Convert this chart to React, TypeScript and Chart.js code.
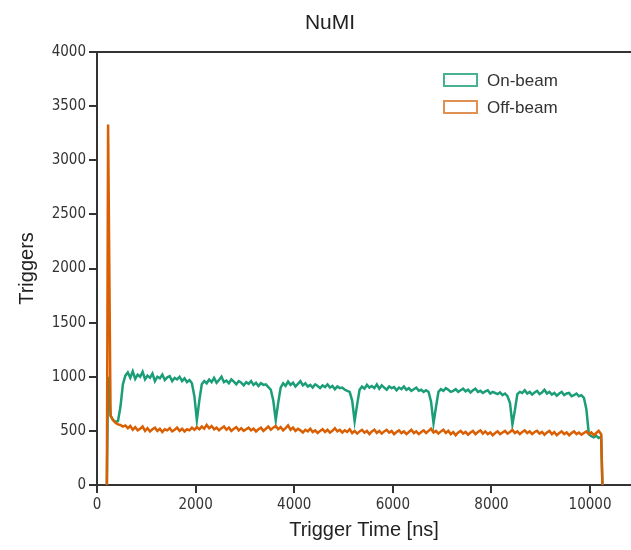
import React, { useEffect, useRef } from "react";
import { Chart, registerables } from "chart.js";

Chart.register(...registerables);

// Histogram binning (ns)
const BIN_START = 200;
const BIN_WIDTH = 50;

const TITLE = "NuMI";
const X_TITLE = "Trigger Time [ns]";
const Y_TITLE = "Triggers";
const SERIES_NAMES = ["On-beam", "Off-beam"];

const X_TICKS = [0, 2000, 4000, 6000, 8000, 10000];
const Y_TICKS = [0, 500, 1000, 1500, 2000, 2500, 3000, 3500, 4000];

// On-beam counts per bin (bins start at 200 ns, 50 ns wide)
const onBeam = [
  1000, 640, 600, 585, 590, 720, 930, 1010, 1040, 990,
  1050, 980, 1020, 1000, 1045, 975, 1010, 990, 1030, 960,
  1000, 985, 1020, 970, 995, 1005, 960, 990, 975, 1000,
  960, 985, 950, 970, 940, 820, 600, 780, 930, 960,
  940, 975, 950, 990, 945, 970, 1000, 950, 965, 940,
  975, 955, 930, 960, 945, 920, 950, 935, 960, 925,
  945, 915, 940, 925, 930, 905, 880, 780, 600, 760,
  900, 940, 915, 955, 925, 945, 910, 935, 960, 920,
  940, 910, 925, 900, 930, 915, 895, 920, 905, 930,
  900, 915, 885, 910, 895, 900, 880, 870, 860, 780,
  590, 740, 880, 910, 890, 925, 900, 915, 895, 930,
  890, 920, 900, 880, 910, 895, 905, 875, 900, 885,
  910, 880, 895, 870, 885, 900, 870, 880, 860, 875,
  860, 770, 570, 720, 860, 885, 870, 895, 880, 860,
  870, 885, 860, 875, 890, 865, 880, 855, 875, 890,
  860, 870, 850, 865, 875, 845, 860, 850, 840, 855,
  830, 845, 820, 760, 560, 690, 840, 860, 850, 875,
  845, 860, 835, 855, 870, 840, 855, 880, 845, 860,
  835, 850, 825, 845, 860, 830, 845, 850, 820, 830,
  845, 820, 830, 805, 700, 470, 450, 440, 455, 435,
  445,
];

// Off-beam counts per bin (same binning)
const offBeam = [
  3330, 640, 600, 575, 560, 555, 540, 550, 525, 545,
  510, 535, 505, 520, 540, 500, 525, 495, 515, 530,
  500, 520, 490, 515, 505, 525, 495, 510, 530, 500,
  520, 495, 515, 505, 530, 510, 535, 515, 540, 520,
  555, 525, 545, 515, 530, 505, 525, 540, 510, 530,
  500, 520, 535, 505, 525, 500, 515, 530, 505, 520,
  495, 515, 530, 500, 520, 540, 510, 530, 545, 515,
  535, 505, 525, 550, 510, 530, 500, 520, 505, 485,
  510, 495, 520, 490, 505, 480, 500, 515, 490, 510,
  485, 500, 525, 495, 510, 485, 505, 490, 515, 480,
  500, 475, 495, 510, 485, 500, 470, 495, 510, 480,
  500, 475, 495, 510, 485, 500, 470, 490, 505, 480,
  495, 470, 490, 510, 480, 495, 470, 490, 505, 480,
  500, 520, 485, 500, 475, 495, 510, 480, 500, 470,
  490, 460, 485, 500, 475, 490, 465, 485, 500, 470,
  490, 505, 475, 495, 470, 485, 460, 480, 495, 470,
  485, 500, 475, 490, 510, 480, 495, 470, 490, 505,
  480, 495, 470, 490, 500, 475, 490, 465, 485, 500,
  470, 490, 460, 480, 495, 470, 485, 460, 480, 495,
  470, 485, 465, 480, 495, 470, 485, 460, 480, 500,
  470,
];

const GREEN = "rgb(27,158,119)";
const ORANGE = "rgb(217,95,2)";
const GREEN_BOX = "rgb(70,178,145)";
const ORANGE_BOX = "rgb(226,145,85)";
const AXIS = "#333333";
const TICK_FONT = "'Liberation Sans Narrow', 'DejaVu Sans Condensed', 'Liberation Sans', sans-serif";
const TEXT_FONT = "'Liberation Sans', Arial, sans-serif";

// points at bin centres, with zero edges at both ends of the histogram
function toPoints(values: number[]) {
  const pts = [{ x: BIN_START, y: 0 }];
  values.forEach((v, i) => pts.push({ x: BIN_START + (i + 0.5) * BIN_WIDTH, y: v }));
  const end = BIN_START + values.length * BIN_WIDTH;
  pts.push({ x: end, y: 0 });
  return pts;
}

const decorPlugin = {
  id: "decor",
  afterDraw(chart: any) {
    const { ctx, chartArea } = chart;
    ctx.save();
    // top frame line
    ctx.strokeStyle = AXIS;
    ctx.lineWidth = 2;
    ctx.beginPath();
    ctx.moveTo(chartArea.left - 1, chartArea.top);
    ctx.lineTo(chartArea.right, chartArea.top);
    ctx.stroke();
    // title
    ctx.fillStyle = "#222";
    ctx.font = `21px ${TEXT_FONT}`;
    ctx.textAlign = "center";
    ctx.textBaseline = "middle";
    ctx.fillText(TITLE, 330, 23);
    // legend
    const colors = [GREEN_BOX, ORANGE_BOX];
    const ys = [80, 107];
    ctx.font = `17px ${TEXT_FONT}`;
    ctx.textAlign = "left";
    SERIES_NAMES.forEach((name, i) => {
      ctx.strokeStyle = colors[i];
      ctx.lineWidth = 2;
      ctx.strokeRect(444, ys[i] - 6, 33, 12);
      ctx.fillStyle = "#333";
      ctx.fillText(name, 487, ys[i] + 1);
    });
    ctx.restore();
  },
};

export default function App() {
  const ref = useRef<HTMLCanvasElement | null>(null);
  useEffect(() => {
    document.body.style.margin = "0";
    const canvas = ref.current;
    if (!canvas) return;
    const chart = new Chart(canvas, {
      type: "line",
      data: {
        datasets: [
          {
            label: SERIES_NAMES[0],
            data: toPoints(onBeam),
            borderColor: GREEN,
            borderWidth: 2.5,
            pointRadius: 0,
            fill: false,
            tension: 0,
            order: 1,
          },
          {
            label: SERIES_NAMES[1],
            data: toPoints(offBeam),
            borderColor: ORANGE,
            borderWidth: 2.5,
            pointRadius: 0,
            fill: false,
            tension: 0,
            order: 0,
          },
        ],
      },
      options: {
        animation: false,
        responsive: false,
        maintainAspectRatio: false,
        layout: { padding: { top: 52, right: 0, bottom: 0, left: 0 } },
        plugins: {
          legend: { display: false },
          title: { display: false },
          tooltip: { enabled: false },
        },
        scales: {
          x: {
            type: "linear",
            min: 0,
            max: 10830,
            afterBuildTicks: (scale: any) => {
              scale.ticks = X_TICKS.map((v) => ({ value: v }));
            },
            afterFit: (scale: any) => {
              scale.height = 65;
            },
            ticks: {
              color: AXIS,
              font: { family: TICK_FONT, size: 15 },
              padding: 3,
              maxRotation: 0,
              callback: (v: any) => String(v),
            },
            grid: {
              drawOnChartArea: false,
              drawTicks: true,
              tickLength: 8,
              color: AXIS,
              lineWidth: 2,
            },
            border: { display: true, color: AXIS, width: 2 },
            title: {
              display: true,
              text: X_TITLE,
              color: "#222",
              font: { family: TEXT_FONT, size: 20 },
              padding: { top: 0, bottom: 8 },
            },
          },
          y: {
            type: "linear",
            min: 0,
            max: 4000,
            afterBuildTicks: (scale: any) => {
              scale.ticks = Y_TICKS.map((v) => ({ value: v }));
            },
            afterFit: (scale: any) => {
              scale.width = 97;
            },
            ticks: {
              color: AXIS,
              font: { family: TICK_FONT, size: 15 },
              padding: 3,
              callback: (v: any) => String(v),
            },
            grid: {
              drawOnChartArea: false,
              drawTicks: true,
              tickLength: 8,
              color: AXIS,
              lineWidth: 2,
            },
            border: { display: true, color: AXIS, width: 2 },
            title: {
              display: true,
              text: Y_TITLE,
              color: "#222",
              font: { family: TEXT_FONT, size: 20 },
              padding: { top: 15, bottom: 0 },
            },
          },
        },
      },
      plugins: [decorPlugin],
    } as any);
    return () => chart.destroy();
  }, []);
  return (
    <div style={{ position: "absolute", left: 0, top: 0, width: 631, height: 550 }}>
      <canvas ref={ref} width={631} height={550} />
    </div>
  );
}
